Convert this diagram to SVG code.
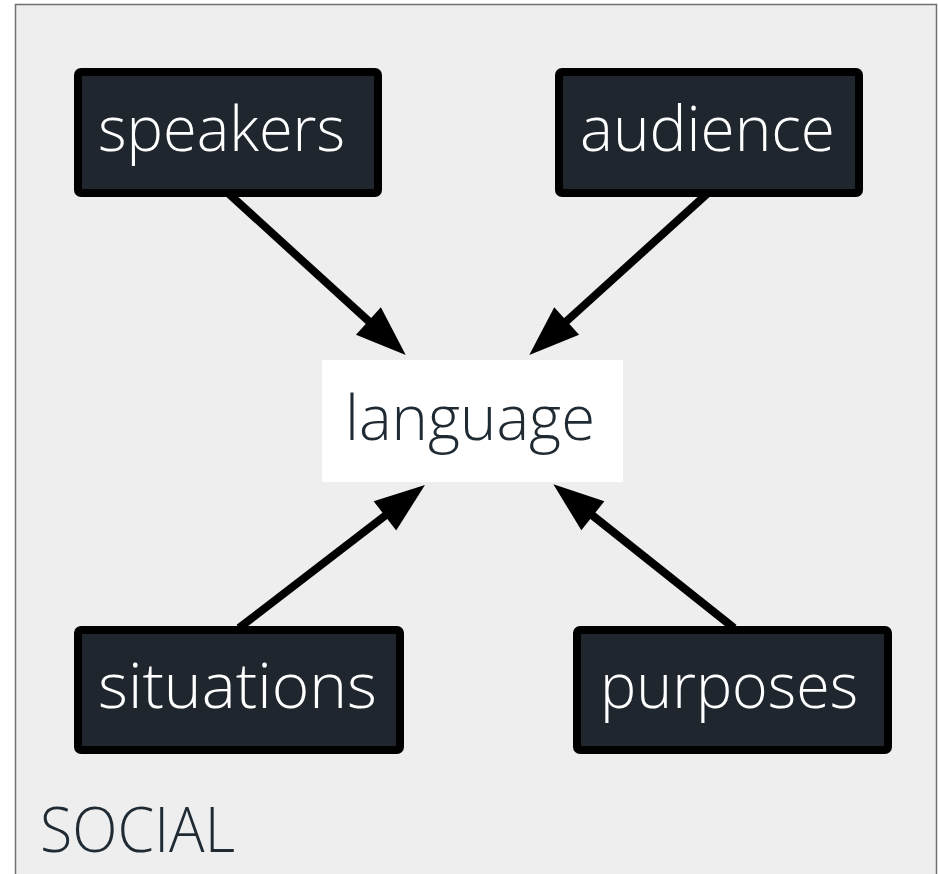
<svg xmlns="http://www.w3.org/2000/svg" width="938" height="874" viewBox="0 0 938 874">
  <style>
    .node rect { fill: #1f262e; stroke: #000000; stroke-width: 8; }
    .node text { fill: #ffffff; font-family: "Open Sans", "Liberation Sans", sans-serif; font-weight: 300; font-size: 62px; }
    .plain text { fill: #1f2a33; font-family: "Open Sans", "Liberation Sans", sans-serif; font-weight: 300; font-size: 62px; }
    .edge { stroke: #000000; stroke-width: 8; fill: none; marker-end: url(#arrow); }
  </style>
  <defs>
    <marker id="arrow" markerUnits="userSpaceOnUse" markerWidth="54" markerHeight="40" viewBox="0 -20 54 40" refX="2" refY="0" orient="auto" overflow="visible">
      <path d="M0,-18.5 L50.5,0 L0,18.5 Z" fill="#000000"/>
    </marker>
  </defs>
  <rect x="0" y="0" width="938" height="874" fill="#ffffff"/>
  <g id="frame" class="plain">
    <rect x="15.5" y="4.5" width="921" height="890" fill="#eeeeee" stroke="#707070" stroke-width="1.5"/>
    <text x="40" y="852" textLength="195" lengthAdjust="spacingAndGlyphs">SOCIAL</text>
  </g>
  <g id="connectors">
    <line class="edge" x1="228" y1="193" x2="369.9" y2="322.3"/>
    <line class="edge" x1="708" y1="193" x2="565.2" y2="322.4"/>
    <line class="edge" x1="239" y1="628" x2="386.5" y2="514.6"/>
    <line class="edge" x1="734" y1="628" x2="591.3" y2="514.5"/>
  </g>
  <g id="speakers" class="node">
    <rect x="78" y="72" width="300" height="121" rx="3"/>
    <text x="98" y="151" textLength="247" lengthAdjust="spacingAndGlyphs">speakers</text>
  </g>
  <g id="audience" class="node">
    <rect x="559" y="72" width="300" height="121" rx="3"/>
    <text x="580" y="151" textLength="255" lengthAdjust="spacingAndGlyphs">audience</text>
  </g>
  <g id="situations" class="node">
    <rect x="78" y="630" width="322" height="120" rx="3"/>
    <text x="98" y="708" textLength="279" lengthAdjust="spacingAndGlyphs">situations</text>
  </g>
  <g id="purposes" class="node">
    <rect x="577" y="630" width="311" height="120" rx="3"/>
    <text x="600" y="708" textLength="258" lengthAdjust="spacingAndGlyphs">purposes</text>
  </g>
  <g id="language" class="plain">
    <rect x="322" y="360" width="301" height="122" fill="#ffffff"/>
    <text x="345" y="440" textLength="250" lengthAdjust="spacingAndGlyphs">language</text>
  </g>
</svg>
